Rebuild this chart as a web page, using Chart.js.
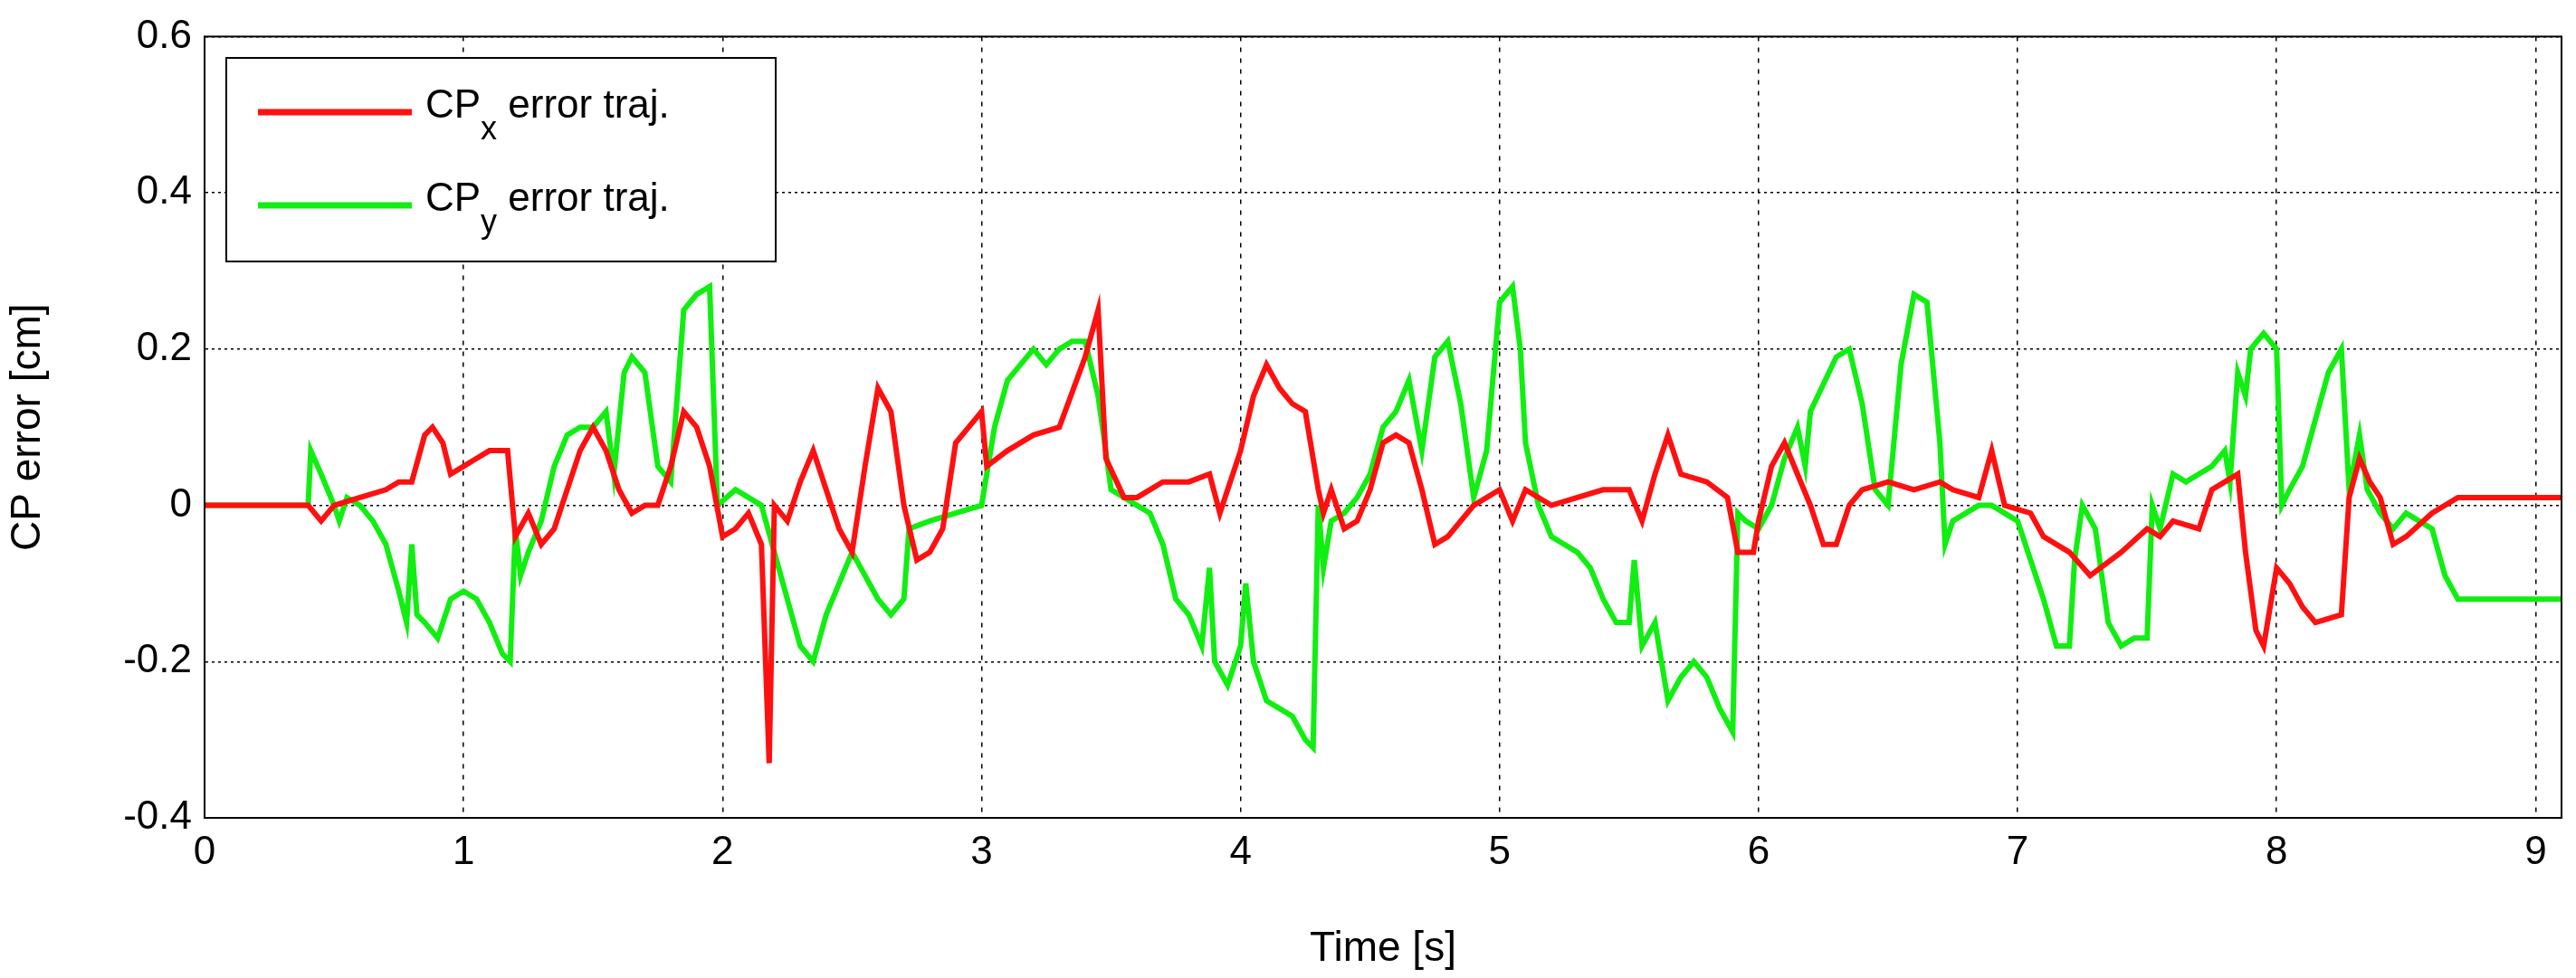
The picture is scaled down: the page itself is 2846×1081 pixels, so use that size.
<!DOCTYPE html>
<html><head><meta charset="utf-8">
<script src="https://cdn.jsdelivr.net/npm/chart.js@4"></script>
<style>html,body{margin:0;padding:0;background:#fff}#w{width:2846px;height:1081px}</style>
</head><body><div id="w"><canvas id="c"></canvas></div>
<script>
const xTicks=[0,1,2,3,4,5,6,7,8,9];
const yTicks=[-0.4,-0.2,0,0.2,0.4,0.6];
const cpxT=[0,0.4,0.45,0.5,0.6,0.7,0.75,0.8,0.85,0.88,0.92,0.95,1.0,1.05,1.1,1.17,1.2,1.25,1.3,1.35,1.4,1.45,1.5,1.55,1.6,1.65,1.7,1.75,1.8,1.85,1.9,1.95,2.0,2.05,2.1,2.15,2.18,2.2,2.25,2.3,2.35,2.4,2.45,2.5,2.55,2.6,2.65,2.7,2.75,2.8,2.85,2.9,3.0,3.02,3.1,3.2,3.3,3.4,3.45,3.48,3.55,3.6,3.7,3.8,3.88,3.92,4.0,4.05,4.1,4.15,4.2,4.25,4.3,4.32,4.35,4.4,4.45,4.5,4.55,4.6,4.65,4.7,4.75,4.8,4.9,5.0,5.05,5.1,5.2,5.3,5.4,5.5,5.55,5.6,5.65,5.7,5.8,5.88,5.92,5.98,6.0,6.05,6.1,6.15,6.2,6.25,6.3,6.35,6.4,6.5,6.6,6.7,6.75,6.85,6.9,6.95,7.05,7.1,7.2,7.28,7.32,7.4,7.5,7.55,7.6,7.7,7.75,7.8,7.85,7.88,7.92,7.95,8.0,8.05,8.1,8.15,8.25,8.28,8.32,8.36,8.4,8.45,8.5,8.6,8.7,9.1];
const cpxV=[0,0,-0.02,0,0.01,0.02,0.03,0.03,0.09,0.1,0.08,0.04,0.05,0.06,0.07,0.07,-0.04,-0.01,-0.05,-0.03,0.02,0.07,0.1,0.07,0.02,-0.01,0,0,0.05,0.12,0.1,0.05,-0.04,-0.03,-0.01,-0.05,-0.33,0,-0.02,0.03,0.07,0.02,-0.03,-0.06,0.05,0.15,0.12,0,-0.07,-0.06,-0.03,0.08,0.12,0.05,0.07,0.09,0.1,0.19,0.25,0.06,0.01,0.01,0.03,0.03,0.04,-0.01,0.07,0.14,0.18,0.15,0.13,0.12,0.02,-0.01,0.02,-0.03,-0.02,0.02,0.08,0.09,0.08,0.02,-0.05,-0.04,0,0.02,-0.02,0.02,0,0.01,0.02,0.02,-0.02,0.04,0.09,0.04,0.03,0.01,-0.06,-0.06,-0.02,0.05,0.08,0.04,0,-0.05,-0.05,0,0.02,0.03,0.02,0.03,0.02,0.01,0.07,0,-0.01,-0.04,-0.06,-0.09,-0.08,-0.06,-0.03,-0.04,-0.02,-0.03,0.02,0.03,0.04,-0.06,-0.16,-0.18,-0.08,-0.1,-0.13,-0.15,-0.14,0.01,0.06,0.03,0.01,-0.05,-0.04,-0.01,0.01,0.01];
const cpyT=[0,0.4,0.41,0.45,0.5,0.52,0.55,0.6,0.65,0.7,0.75,0.78,0.8,0.82,0.85,0.9,0.95,1.0,1.05,1.1,1.15,1.18,1.2,1.22,1.25,1.3,1.35,1.4,1.45,1.5,1.55,1.58,1.62,1.65,1.7,1.75,1.8,1.85,1.9,1.95,1.98,2.05,2.1,2.15,2.2,2.25,2.3,2.35,2.4,2.45,2.5,2.55,2.6,2.65,2.7,2.72,2.8,2.9,3.0,3.05,3.1,3.15,3.2,3.25,3.3,3.35,3.4,3.45,3.5,3.55,3.6,3.65,3.7,3.75,3.8,3.85,3.88,3.9,3.95,4.0,4.02,4.05,4.1,4.15,4.2,4.25,4.28,4.3,4.32,4.35,4.4,4.45,4.5,4.55,4.6,4.65,4.7,4.75,4.8,4.85,4.9,4.95,5.0,5.05,5.08,5.1,5.15,5.2,5.25,5.3,5.35,5.4,5.45,5.5,5.52,5.55,5.6,5.65,5.7,5.75,5.8,5.85,5.9,5.92,5.95,6.0,6.05,6.1,6.15,6.18,6.2,6.3,6.35,6.4,6.45,6.5,6.55,6.6,6.65,6.7,6.72,6.75,6.85,6.9,7.0,7.05,7.1,7.15,7.2,7.22,7.25,7.3,7.35,7.4,7.45,7.5,7.52,7.55,7.6,7.65,7.7,7.75,7.8,7.82,7.85,7.88,7.9,7.95,8.0,8.02,8.05,8.1,8.15,8.2,8.25,8.28,8.32,8.35,8.4,8.45,8.5,8.55,8.6,8.65,8.7,9.1];
const cpyV=[0,0,0.07,0.04,0,-0.02,0.01,0,-0.02,-0.05,-0.11,-0.15,-0.05,-0.14,-0.15,-0.17,-0.12,-0.11,-0.12,-0.15,-0.19,-0.2,-0.03,-0.09,-0.06,-0.02,0.05,0.09,0.1,0.1,0.12,0.04,0.17,0.19,0.17,0.05,0.03,0.25,0.27,0.28,0,0.02,0.01,0,-0.06,-0.12,-0.18,-0.2,-0.14,-0.1,-0.06,-0.09,-0.12,-0.14,-0.12,-0.03,-0.02,-0.01,0,0.1,0.16,0.18,0.2,0.18,0.2,0.21,0.21,0.14,0.02,0.01,0,-0.01,-0.05,-0.12,-0.14,-0.18,-0.08,-0.2,-0.23,-0.18,-0.1,-0.2,-0.25,-0.26,-0.27,-0.3,-0.31,0,-0.08,-0.02,-0.01,0.01,0.04,0.1,0.12,0.16,0.07,0.19,0.21,0.13,0.01,0.07,0.26,0.28,0.2,0.08,0,-0.04,-0.05,-0.06,-0.08,-0.12,-0.15,-0.15,-0.07,-0.18,-0.15,-0.25,-0.22,-0.2,-0.22,-0.26,-0.29,-0.01,-0.02,-0.03,0,0.06,0.1,0.05,0.12,0.19,0.2,0.13,0.02,0,0.18,0.27,0.26,0.08,-0.05,-0.02,0,0,-0.02,-0.07,-0.12,-0.18,-0.18,-0.07,0,-0.03,-0.15,-0.18,-0.17,-0.17,0,-0.03,0.04,0.03,0.04,0.05,0.07,0.03,0.17,0.14,0.2,0.22,0.2,0,0.02,0.05,0.11,0.17,0.2,0.02,0.09,0.02,-0.01,-0.03,-0.01,-0.02,-0.03,-0.09,-0.12,-0.12];
const seriesNames=['x','y'];
const pts=(t,v)=>t.map((x,i)=>({x:x,y:v[i]}));
const F='"Liberation Sans", Arial, sans-serif';
const legendPlugin={id:'lg',afterDraw(ch){const c=ch.ctx;c.save();
 const x0=250,y0=64,w=607,h=225;c.fillStyle='#fff';c.fillRect(x0,y0,w,h);c.strokeStyle='#000';c.lineWidth=2;c.strokeRect(x0,y0,w,h);
 ch.data.datasets.forEach((d,i)=>{const yy=y0+60+i*103;c.strokeStyle=d.borderColor;c.lineWidth=7;c.beginPath();c.moveTo(x0+35,yy);c.lineTo(x0+205,yy);c.stroke();
 c.fillStyle='#000';c.textBaseline='middle';c.font='44px '+F;c.fillText('CP',x0+220,yy-6);const wcp=c.measureText('CP').width;
 c.font='36px '+F;c.fillText(seriesNames[i],x0+220+wcp,yy+20);const ws=c.measureText(seriesNames[i]).width;
 c.font='44px '+F;c.fillText(' error traj.',x0+220+wcp+ws,yy-6);});
 const a=ch.chartArea;c.strokeStyle='#000';c.lineWidth=2;c.strokeRect(a.left,a.top,a.right-a.left,a.bottom-a.top);c.restore();}};
new Chart(document.getElementById('c'),{type:'line',
 data:{datasets:[{label:'CPx error traj.',data:pts(cpxT,cpxV),borderColor:'#ff1010',borderWidth:6,pointRadius:0,tension:0},
 {label:'CPy error traj.',data:pts(cpyT,cpyV),borderColor:'#11ee11',borderWidth:6,pointRadius:0,tension:0}]},
 options:{responsive:true,maintainAspectRatio:false,animation:false,
 layout:{padding:{left:0,right:16,top:37,bottom:0}},
 plugins:{legend:{display:false},tooltip:{enabled:false}},
 scales:{x:{type:'linear',min:0,max:9.1,afterBuildTicks:s=>{s.ticks=xTicks.map(v=>({value:v}));},
  afterFit:s=>{s.height=177;},
  grid:{color:'#000',lineWidth:1.5,drawTicks:false},border:{display:true,color:'#000'},
  ticks:{color:'#000',font:{size:44,family:F},padding:12,maxRotation:0},
  title:{display:true,text:'Time [s]',color:'#000',font:{size:46,family:F},padding:{top:0}}},
 y:{min:-0.4,max:0.6,afterBuildTicks:s=>{s.ticks=yTicks.map(v=>({value:v}));},
  afterFit:s=>{s.width=226;},
  grid:{color:'#000',lineWidth:1.5,drawTicks:false},border:{display:true,color:'#000'},
  ticks:{color:'#000',font:{size:44,family:F},padding:14,callback:v=>String(Math.round(v*10)/10)},
  title:{display:true,text:'CP error [cm]',color:'#000',font:{size:46,family:F},padding:{bottom:4}}}}},
 plugins:[legendPlugin]
});
const ch=Chart.getChart('c');
ch.options.scales.x.border.dash=[5,7];ch.options.scales.y.border.dash=[3,4];
ch.update();
</script>
</body></html>
